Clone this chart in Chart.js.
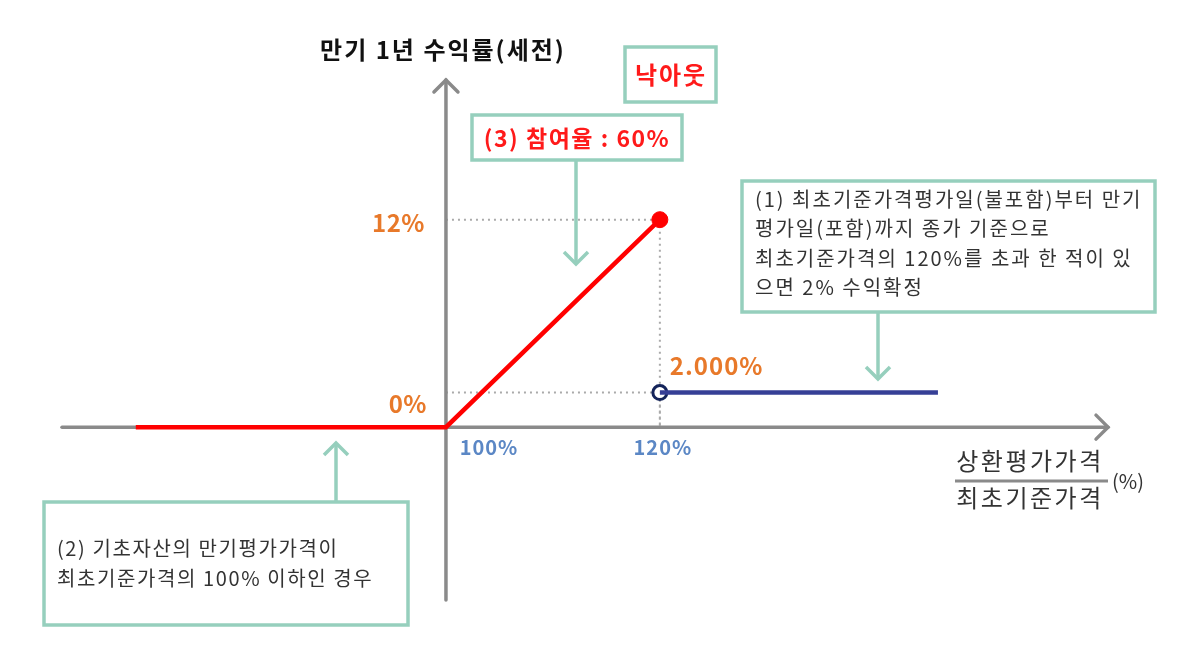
<!DOCTYPE html>
<html><head><meta charset="utf-8">
<script src="https://cdn.jsdelivr.net/npm/chart.js@4.4.1/dist/chart.umd.min.js"></script>
<style>html,body{margin:0;padding:0;background:#fff}#wrap{width:1194px;height:658px;position:relative}</style>
</head><body><div id="wrap"><canvas id="c"></canvas></div>
<script>
// ---- data ----
const lossX = [71, 100, 120];        // underlying ratio (%)
const lossY = [0, 0, 12];            // return (%)
const knockX = [120, 146];
const knockY = [2, 2];
const capPoint = {x: 120, y: 12};
const rebatePoint = {x: 120, y: 2};
const xTickLabels = [{v: 100, t: '100%'}, {v: 120, t: '120%'}];
const yTickLabels = [{v: 12, t: '12%'}, {v: 0, t: '0%'}];
const rebateLabel = '2.000%';

const FONT = '"Noto Sans CJK KR", "Noto Sans", sans-serif';
const TEAL = '#96cfbd';
const GRAY = '#8a8a8a';

function arrowHead(ctx, x, y, dir, s) {
  ctx.beginPath();
  if (dir === 'down') { ctx.moveTo(x - s, y - s); ctx.lineTo(x, y); ctx.lineTo(x + s, y - s); }
  if (dir === 'up') { ctx.moveTo(x - s, y + s); ctx.lineTo(x, y); ctx.lineTo(x + s, y + s); }
  if (dir === 'right') { ctx.moveTo(x - s, y - s); ctx.lineTo(x, y); ctx.lineTo(x - s, y + s); }
  ctx.stroke();
}

const behind = {
  id: 'behind',
  beforeDatasetsDraw(chart) {
    const {ctx, scales: {x, y}, chartArea: ca} = chart;
    ctx.save();
    ctx.strokeStyle = '#aaaaaa'; ctx.lineWidth = 2; ctx.setLineDash([2, 4]);
    const x0 = x.getPixelForValue(100), y0 = y.getPixelForValue(0);
    [capPoint, rebatePoint].forEach(p => {
      const px = x.getPixelForValue(p.x), py = y.getPixelForValue(p.y);
      ctx.beginPath(); ctx.moveTo(x0, py); ctx.lineTo(px, py); ctx.stroke();
      ctx.beginPath(); ctx.moveTo(px, py); ctx.lineTo(px, y0); ctx.stroke();
    });
    ctx.setLineDash([]);
    ctx.strokeStyle = GRAY; ctx.lineWidth = 3.5; ctx.lineCap = 'round';
    ctx.beginPath(); ctx.moveTo(ca.left, y0); ctx.lineTo(ca.right, y0); ctx.stroke();
    ctx.beginPath(); ctx.moveTo(x0, ca.bottom); ctx.lineTo(x0, ca.top); ctx.stroke();
    arrowHead(ctx, ca.right, y0, 'right', 12);
    arrowHead(ctx, x0, ca.top, 'up', 12);
    ctx.restore();
  },
  afterDatasetsDraw(chart) {
    const {ctx, scales: {x, y}} = chart;
    ctx.save();
    ctx.textBaseline = 'middle';
    // tick labels
    ctx.font = '600 20px ' + FONT; ctx.letterSpacing = '1px'; ctx.fillStyle = '#5b87c5'; ctx.textAlign = 'center';
    xTickLabels.forEach(t => { const px = x.getPixelForValue(t.v); ctx.fillText(t.t, px + (t.v === 100 ? 43 : 3), y.getPixelForValue(0) + 20); });
    ctx.font = '600 24px ' + FONT; ctx.letterSpacing = '0.5px'; ctx.fillStyle = '#e8792a'; ctx.textAlign = 'right';
    yTickLabels.forEach(t => { ctx.fillText(t.t, x.getPixelForValue(100) - (t.v === 0 ? 19 : 21), y.getPixelForValue(t.v) + (t.v === 0 ? -23 : 3)); });
    ctx.textAlign = 'left'; ctx.letterSpacing = '1px';
    ctx.fillText(rebateLabel, x.getPixelForValue(rebatePoint.x) + 10, y.getPixelForValue(rebatePoint.y) - 27);

    // title
    ctx.fillStyle = '#111'; ctx.font = 'bold 24px ' + FONT; ctx.letterSpacing = '2px'; ctx.textAlign = 'center';
    ctx.fillText('만기 1년 수익률(세전)', 443, 50);

    function box(l, t, r, b) { ctx.fillStyle = '#fff'; ctx.fillRect(l, t, r - l, b - t); ctx.strokeStyle = TEAL; ctx.lineWidth = 3.5; ctx.strokeRect(l, t, r - l, b - t); }
    box(625, 47, 716, 102);
    ctx.fillStyle = '#ff1a1a'; ctx.font = 'bold 24px ' + FONT; ctx.letterSpacing = '2px'; ctx.textAlign = 'center';
    ctx.fillText('낙아웃', 671, 75);
    box(472, 115, 682, 160);
    ctx.fillStyle = '#ff1a1a'; ctx.font = 'bold 23px ' + FONT; ctx.letterSpacing = '1.5px';
    ctx.fillText('(3) 참여율 : 60%', 577, 138);
    ctx.strokeStyle = TEAL; ctx.lineWidth = 3.5;
    ctx.beginPath(); ctx.moveTo(576, 160); ctx.lineTo(576, 264); ctx.stroke();
    arrowHead(ctx, 576, 264, 'down', 12);

    box(742, 181, 1155, 312);
    ctx.fillStyle = '#333'; ctx.font = '20px ' + FONT; ctx.letterSpacing = '2px'; ctx.textAlign = 'left';
    ['(1) 최초기준가격평가일(불포함)부터 만기', '평가일(포함)까지 종가 기준으로', '최초기준가격의 120%를 초과 한 적이 있', '으면 2% 수익확정']
      .forEach((s, i) => ctx.fillText(s, 755, 199 + i * 29.5));
    ctx.strokeStyle = TEAL;
    ctx.beginPath(); ctx.moveTo(878, 312); ctx.lineTo(878, 379); ctx.stroke();
    arrowHead(ctx, 878, 379, 'down', 12);

    box(44, 502, 408, 625);
    ctx.fillStyle = '#333'; ctx.font = '20px ' + FONT; ctx.letterSpacing = '1.6px';
    ['(2) 기초자산의 만기평가가격이', '최초기준가격의 100% 이하인 경우'].forEach((s, i) => ctx.fillText(s, 57, 548 + i * 30));
    ctx.strokeStyle = TEAL;
    ctx.beginPath(); ctx.moveTo(336, 502); ctx.lineTo(336, 443); ctx.stroke();
    arrowHead(ctx, 336, 443, 'up', 12);

    ctx.fillStyle = '#333'; ctx.font = '24px ' + FONT; ctx.letterSpacing = '2.5px'; ctx.textAlign = 'center';
    ctx.fillText('상환평가가격', 1030, 461);
    ctx.fillText('최초기준가격', 1030, 498);
    ctx.strokeStyle = GRAY; ctx.lineWidth = 3; ctx.lineCap = 'butt';
    ctx.beginPath(); ctx.moveTo(955, 481); ctx.lineTo(1108, 481); ctx.stroke();
    ctx.font = '20px ' + FONT; ctx.letterSpacing = '0px'; ctx.textAlign = 'left';
    ctx.fillText('(%)', 1112, 481);
    ctx.restore();
  }
};

new Chart(document.getElementById('c'), {
  type: 'scatter',
  data: {
    datasets: [
      { data: lossX.map((v, i) => ({x: v, y: lossY[i]})), showLine: true, borderColor: '#ff0000', borderWidth: 4.5, pointRadius: 0, fill: false },
      { data: knockX.map((v, i) => ({x: v, y: knockY[i]})), showLine: true, borderColor: '#363f96', borderWidth: 4.5, pointRadius: 0, fill: false },
      { data: [capPoint], pointRadius: 8, pointBackgroundColor: '#ff0000', pointBorderColor: '#ff0000', pointBorderWidth: 1 },
      { data: [rebatePoint], pointRadius: 7, pointBackgroundColor: '#ffffff', pointBorderColor: '#14245a', pointBorderWidth: 3 }
    ]
  },
  options: {
    responsive: true, maintainAspectRatio: false, animation: false, devicePixelRatio: 1,
    layout: { padding: { left: 62, right: 86, top: 80, bottom: 58 } },
    plugins: { legend: { display: false }, tooltip: { enabled: false } },
    scales: {
      x: { type: 'linear', min: 64.1, max: 161.9, display: false },
      y: { type: 'linear', min: -10, max: 20.08, display: false }
    }
  },
  plugins: [behind]
});
</script>
</body></html>
